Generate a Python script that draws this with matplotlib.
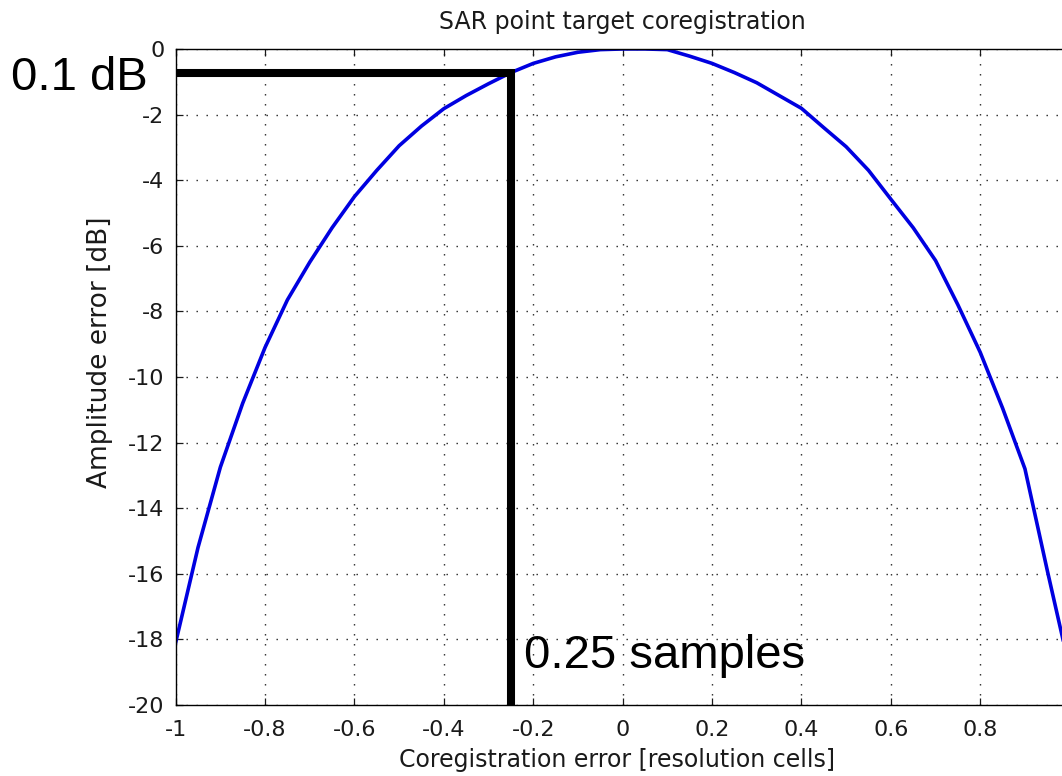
import numpy as np
import matplotlib.pyplot as plt

# Datos
offset = [-1.0, -0.95, -0.9, -0.85, -0.8, -0.75, -0.7, -0.65, -0.6, -0.55, -0.5,
          -0.45, -0.4, -0.35, -0.3, -0.25, -0.2, -0.15, -0.1, -0.05, 0.0,
          0.05, 0.1, 0.15, 0.2, 0.25, 0.3, 0.35, 0.4, 0.45, 0.5,
          0.55, 0.6, 0.65, 0.7, 0.75, 0.8, 0.85, 0.9, 0.95, 1.0]
amp_db = [-18.1, -15.2, -12.75, -10.8, -9.1, -7.65, -6.5, -5.45, -4.5, -3.7, -2.95,
          -2.35, -1.82, -1.42, -1.06, -0.72, -0.44, -0.24, -0.1, -0.02, 0.0,
          0.0, -0.02, -0.22, -0.44, -0.72, -1.03, -1.42, -1.81, -2.4, -2.98,
          -3.7, -4.58, -5.45, -6.45, -7.8, -9.25, -10.95, -12.8, -15.9, -18.9]

marker_x = -0.25
marker_db = -0.73

xticks = [-1, -0.8, -0.6, -0.4, -0.2, 0, 0.2, 0.4, 0.6, 0.8, 1]
# la etiqueta "1" queda fuera del recorte en la imagen original
xtick_labels = ['-1', '-0.8', '-0.6', '-0.4', '-0.2', '0', '0.2', '0.4', '0.6', '0.8', '']
yticks = [-20, -18, -16, -14, -12, -10, -8, -6, -4, -2, 0]
ytick_labels = ['-20', '-18', '-16', '-14', '-12', '-10', '-8', '-6', '-4', '-2', '0']

# Figura (el eje derecho queda fuera del recorte, como en la imagen)
fig = plt.figure(figsize=(10.62, 7.76), dpi=100)
ax = fig.add_axes([0.1654, 0.0915, 0.8418, 0.8454])

ax.plot(offset, amp_db, color='#0000e0', lw=2.6)
ax.plot([-1, marker_x, marker_x], [marker_db, marker_db, -20], color='k', lw=5.8,
        solid_joinstyle='miter', solid_capstyle='butt', clip_on=False)

ax.set_xlim(-1, 1)
ax.set_ylim(-20, 0)
ax.set_xticks(xticks)
ax.set_xticklabels(xtick_labels)
ax.set_yticks(yticks)
ax.set_yticklabels(ytick_labels)
ax.tick_params(direction='in', length=5, width=0.9, top=True, right=True,
               labelsize=16, pad=8, colors='#1a1a1a')
ax.tick_params(axis='x', pad=11)
for s in ax.spines.values():
    s.set_linewidth(1.0)
ax.grid(True, color='#222222', lw=1.0, ls=(0, (1, 6.2)))

ax.set_title('SAR point target coregistration', fontsize=17, y=1.041, va='center',
             pad=0, color='#1a1a1a')
ax.set_xlabel('Coregistration error [resolution cells]', fontsize=17, va='center',
              color='#1a1a1a')
ax.xaxis.set_label_coords(0.494, -0.0838)
ax.set_ylabel('Amplitude error [dB]', fontsize=19, va='center', color='#1a1a1a')
ax.yaxis.set_label_coords(-0.0847, 0.538)

# Anotaciones
ax.text(-1.063, -1.25, '0.1 dB', fontsize=34, family='Liberation Sans',
        ha='right', va='baseline', clip_on=False)
ax.text(-0.221, -18.87, '0.25 samples', fontsize=34, family='Liberation Sans',
        ha='left', va='baseline')

plt.savefig('out.png', dpi=100)
